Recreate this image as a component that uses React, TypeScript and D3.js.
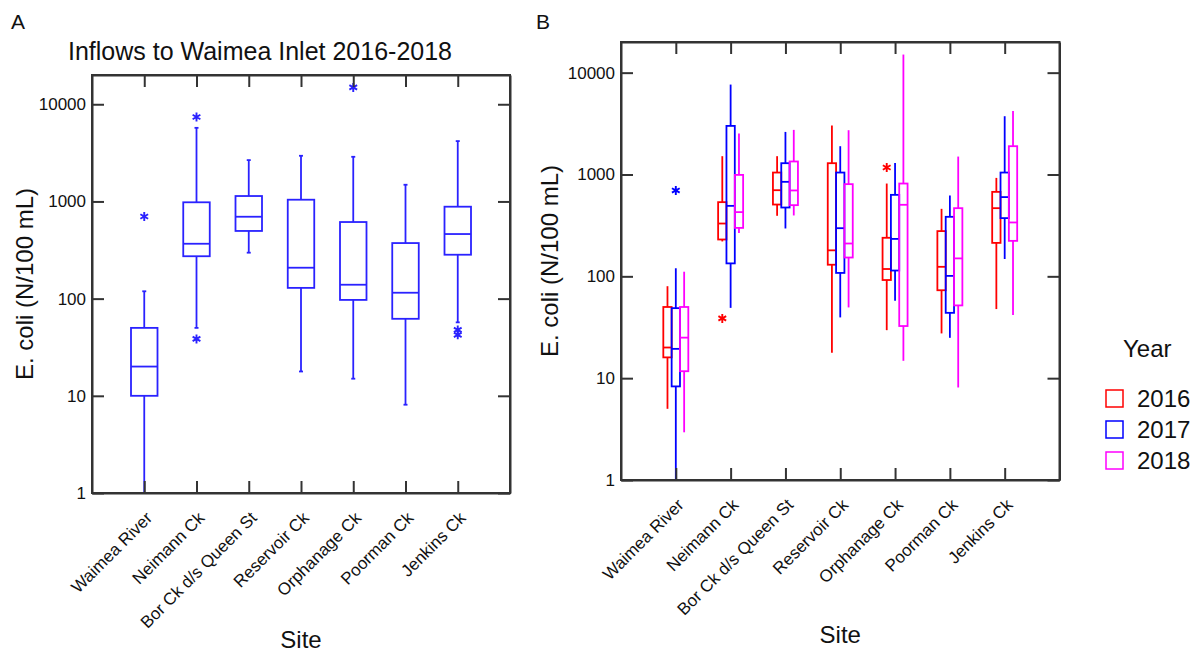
import { useEffect, useRef } from 'react';
import * as d3 from 'd3';

// Sampling sites (x categories)
const sites = [
  'Waimea River',
  'Neimann Ck',
  'Bor Ck d/s Queen St',
  'Reservoir Ck',
  'Orphanage Ck',
  'Poorman Ck',
  'Jenkins Ck',
];

const yTicks = [1, 10, 100, 1000, 10000];

// Panel A: all years pooled (E. coli N/100 mL)
const allLow = [1, 50, 297, 17.8, 15, 8.1, 57];
const allQ1 = [10, 273, 497, 129, 97, 62, 283];
const allMed = [20, 367, 696, 208, 139, 115, 462];
const allQ3 = [50, 980, 1137, 1042, 614, 373, 883];
const allHigh = [119, 5720, 2663, 2950, 2880, 1485, 4178];
const allOut = [[700], [7400, 38.5], [], [], [14900], [], [47.7, 42.4]];

// Panel B: by year
const years = ['2016', '2017', '2018'];
const yearColors = ['#ff0000', '#0000ff', '#ff00ff'];

const low16 = [5, 220, 393, 17.8, 29.6, 27.5, 47.7];
const q1_16 = [16, 230, 507, 130, 92, 73, 213];
const med16 = [20, 330, 701, 180, 118, 124, 467];
const q3_16 = [50, 535, 1045, 1291, 239, 278, 675];
const high16 = [80, 1513, 1513, 3028, 815, 460, 926];
const out16 = [[], [38.6], [], [], [1172], [], []];

const low17 = [1, 49, 295, 39.5, 57.5, 24.9, 148];
const q1_17 = [8.3, 134, 474, 108, 114, 43.8, 373];
const med17 = [19.4, 492, 847, 297, 233, 101, 600];
const q3_17 = [48.7, 3000, 1291, 1045, 631, 384, 1045];
const high17 = [120, 7640, 2619, 1896, 1300, 622, 3735];
const out17 = [[697], [], [], [], [], [], []];

const low18 = [2.94, 267, 396, 49.5, 14.8, 8.1, 41.6];
const q1_18 = [11.7, 299, 500, 153, 32.5, 51.8, 223];
const med18 = [25, 427, 697, 210, 504, 150, 338];
const q3_18 = [50, 991, 1342, 804, 815, 467, 1896];
const high18 = [111, 2524, 2742, 2722, 15060, 1500, 4210];
const out18 = [[], [], [], [], [], [], []];

const W = 1198;
const H = 652;
const FONT = "'Liberation Sans', Arial, Helvetica, sans-serif";
const AXIS = '#333';
const BLUE_A = '#2a22ff';

type Box = { site: string; low: number; q1: number; med: number; q3: number; high: number; out: number[] };

function makeBoxes(low: number[], q1: number[], med: number[], q3: number[], high: number[], out: number[][]): Box[] {
  return sites.map((s, i) => ({ site: s, low: low[i], q1: q1[i], med: med[i], q3: q3[i], high: high[i], out: out[i] }));
}

function drawAxes(g: any, x: any, y: any, left: number, right: number, top: number, bottom: number, yLabX: number, siteY: number) {
  const styleAxis = (sel: any) => {
    sel.attr('font-family', FONT).attr('font-size', 17);
    sel.selectAll('.domain').attr('stroke', AXIS).attr('stroke-width', 2);
    sel.selectAll('.tick line').attr('stroke', AXIS).attr('stroke-width', 2);
    sel.selectAll('.tick text').attr('fill', '#111');
  };

  g.append('g')
    .attr('transform', `translate(${left},0)`)
    .call(d3.axisLeft(y).tickValues(yTicks).tickFormat(d3.format('d') as any).tickSizeInner(-12).tickSizeOuter(0).tickPadding(6))
    .call(styleAxis);
  g.append('g')
    .attr('transform', `translate(${right},0)`)
    .call(d3.axisRight(y).tickValues(yTicks).tickFormat(() => '').tickSizeInner(-12).tickSizeOuter(0))
    .call(styleAxis);
  g.append('g')
    .attr('transform', `translate(0,${top})`)
    .call(d3.axisTop(x).tickFormat(() => '').tickSizeInner(-12).tickSizeOuter(0))
    .call(styleAxis);
  g.append('g')
    .attr('transform', `translate(0,${bottom})`)
    .call(d3.axisBottom(x).tickFormat(() => '').tickSizeInner(-12).tickSizeOuter(0))
    .call(styleAxis);

  // frame
  g.append('rect')
    .attr('x', left)
    .attr('y', top)
    .attr('width', right - left)
    .attr('height', bottom - top)
    .attr('fill', 'none')
    .attr('stroke', AXIS)
    .attr('stroke-width', 2);

  // rotated site labels
  g.selectAll('.xlab')
    .data(sites)
    .join('text')
    .attr('class', 'xlab')
    .attr('transform', (d: string) => `translate(${x(d) + 9},${bottom + 26}) rotate(-45)`)
    .attr('text-anchor', 'end')
    .attr('font-family', FONT)
    .attr('font-size', 17)
    .attr('fill', '#111')
    .text((d: string) => d);

  // axis titles
  g.append('text')
    .attr('transform', `translate(${yLabX},${(top + bottom) / 2}) rotate(-90)`)
    .attr('text-anchor', 'middle')
    .attr('font-family', FONT)
    .attr('font-size', 24)
    .attr('fill', '#111')
    .text('E. coli (N/100 mL)');

  g.append('text')
    .attr('x', (left + right) / 2)
    .attr('y', siteY)
    .attr('text-anchor', 'middle')
    .attr('font-family', FONT)
    .attr('font-size', 24)
    .attr('fill', '#111')
    .text('Site');
}

function drawBoxes(g: any, data: Box[], cx: (b: Box) => number, bw: number, y: any, color: string, cap: number) {
  const star = d3.symbol().type(d3.symbolAsterisk).size(56);
  const grp = g.append('g')
    .attr('fill', 'none')
    .attr('stroke', color)
    .attr('stroke-width', 1.8);

  data.forEach((b) => {
    const x = cx(b);
    grp.append('line').attr('x1', x).attr('x2', x).attr('y1', y(b.q3)).attr('y2', y(b.high));
    grp.append('line').attr('x1', x).attr('x2', x).attr('y1', y(b.q1)).attr('y2', y(b.low));
    if (cap > 0) {
      grp.append('line').attr('x1', x - cap / 2).attr('x2', x + cap / 2).attr('y1', y(b.high)).attr('y2', y(b.high));
      grp.append('line').attr('x1', x - cap / 2).attr('x2', x + cap / 2).attr('y1', y(b.low)).attr('y2', y(b.low));
    }
    grp.append('rect')
      .attr('x', x - bw / 2)
      .attr('y', y(b.q3))
      .attr('width', bw)
      .attr('height', y(b.q1) - y(b.q3));
    grp.append('line').attr('x1', x - bw / 2).attr('x2', x + bw / 2).attr('y1', y(b.med)).attr('y2', y(b.med));
    b.out.forEach((v) => {
      grp.append('path')
        .attr('transform', `translate(${x},${y(v)})`)
        .attr('d', star() as string)
        .attr('stroke-width', 1.9);
    });
  });
}

export default function App() {
  const svgRef = useRef<SVGSVGElement>(null);

  useEffect(() => {
    const svg = d3.select(svgRef.current);
    svg.selectAll('*').remove();

    // ---------- Panel A ----------
    const aL = 92, aR = 510, aT = 75, aB = 493;
    const xA = d3.scalePoint<string>().domain(sites).range([aL, aR]).padding(1);
    const yA = d3.scaleLog().domain([1, 20000]).range([aB, aT]);
    const gA = svg.append('g');

    drawBoxes(gA, makeBoxes(allLow, allQ1, allMed, allQ3, allHigh, allOut), (b) => xA(b.site)!, 26.5, yA, BLUE_A, 4);
    drawAxes(gA, xA, yA, aL, aR, aT, aB, 33, 648);

    gA.append('text')
      .attr('x', 260)
      .attr('y', 60)
      .attr('text-anchor', 'middle')
      .attr('font-family', FONT)
      .attr('font-size', 25)
      .attr('fill', '#111')
      .text('Inflows to Waimea Inlet 2016-2018');

    gA.append('text')
      .attr('x', 11)
      .attr('y', 29)
      .attr('font-family', FONT)
      .attr('font-size', 21)
      .attr('fill', '#111')
      .text('A');

    // ---------- Panel B ----------
    const bL = 621, bR = 1059.5, bT = 42, bB = 480;
    const xB = d3.scalePoint<string>().domain(sites).range([bL, bR]).padding(1);
    const yB = d3.scaleLog().domain([1, 20000]).range([bB, bT]);
    const dodge = d3.scaleBand<string>().domain(years).range([-12.5, 12.5]);
    const gB = svg.append('g');

    const byYear = [
      makeBoxes(low16, q1_16, med16, q3_16, high16, out16),
      makeBoxes(low17, q1_17, med17, q3_17, high17, out17),
      makeBoxes(low18, q1_18, med18, q3_18, high18, out18),
    ];
    byYear.forEach((data, i) => {
      const off = dodge(years[i])! + dodge.bandwidth() / 2;
      drawBoxes(gB, data, (b) => xB(b.site)! + off, dodge.bandwidth(), yB, yearColors[i], 0);
    });
    drawAxes(gB, xB, yB, bL, bR, bT, bB, 558, 643);

    gB.append('text')
      .attr('x', 536)
      .attr('y', 29)
      .attr('font-family', FONT)
      .attr('font-size', 21)
      .attr('fill', '#111')
      .text('B');

    // legend
    const lg = svg.append('g').attr('transform', 'translate(1106,357)');
    lg.append('text')
      .attr('x', 17)
      .attr('y', 0)
      .attr('font-family', FONT)
      .attr('font-size', 24)
      .attr('fill', '#111')
      .text('Year');
    const items = lg.selectAll('.li')
      .data(years)
      .join('g')
      .attr('class', 'li')
      .attr('transform', (_d: string, i: number) => `translate(0,${33 + i * 31})`);
    items.append('rect')
      .attr('width', 17)
      .attr('height', 17)
      .attr('fill', 'none')
      .attr('stroke', (_d: string, i: number) => yearColors[i])
      .attr('stroke-width', 1.5);
    items.append('text')
      .attr('x', 31)
      .attr('y', 17)
      .attr('font-family', FONT)
      .attr('font-size', 24)
      .attr('fill', '#111')
      .text((d: string) => d);
  }, []);

  return (
    <svg
      ref={svgRef}
      width={W}
      height={H}
      style={{ position: 'absolute', left: 0, top: 0, background: '#fff' }}
    />
  );
}
